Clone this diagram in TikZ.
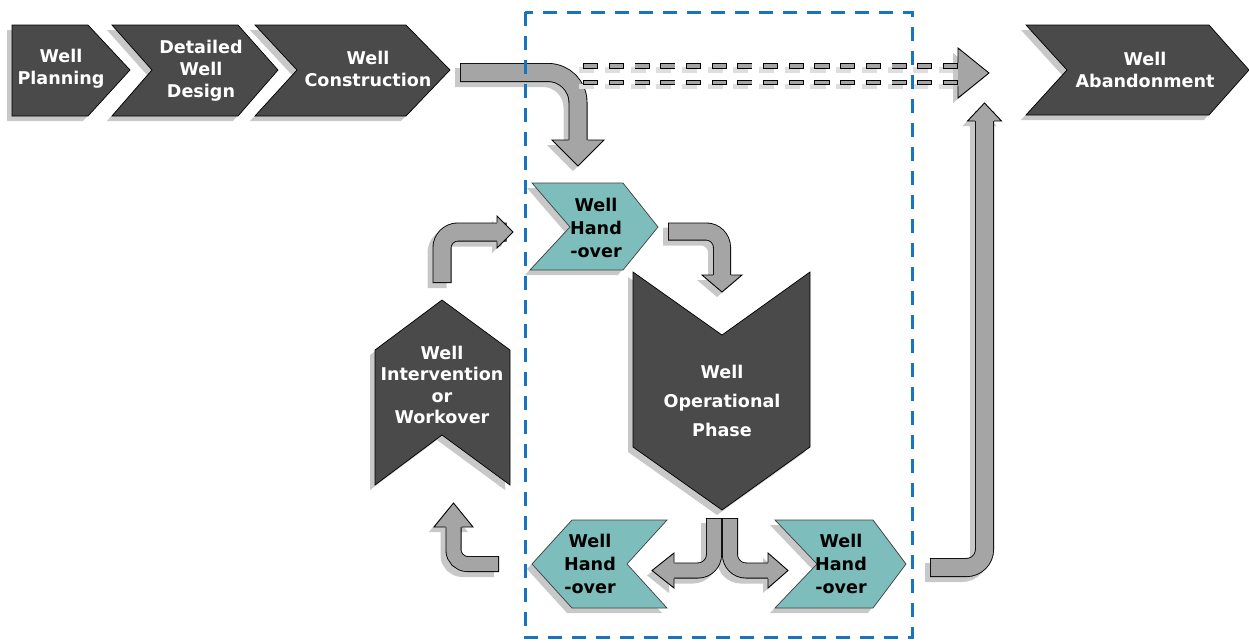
\documentclass[tikz,border=0pt]{standalone}
\usepackage{fontspec}
\setmainfont{DejaVu Sans}
\usepackage{tikz}

\definecolor{chevdark}{RGB}{74,74,74}
\definecolor{handteal}{RGB}{125,190,188}
\definecolor{arrowgray}{RGB}{165,165,165}
\definecolor{shadowgray}{RGB}{200,200,200}
\definecolor{frameblue}{RGB}{22,117,190}

\tikzset{
  chevshadow/.style={fill=shadowgray, shift={(-5,5)}},
  darkchev/.style={fill=chevdark, draw=black, line width=0.4pt},
  tealchev/.style={fill=handteal, draw=black!75, line width=0.4pt},
  whitetext/.style={text=white, align=center, inner sep=0pt, font=\fontsize{10}{12.5}\selectfont\bfseries},
  blacktext/.style={whitetext, text=black},
  shaftshadow/.style={draw=shadowgray, line width={#1*0.02cm}, line cap=rect, shift={(-5,5)}},
  shaftbody/.style={draw=black, line width=0.5pt, double=arrowgray, double distance={#1*0.02cm-1pt}, line cap=rect},
  headshadow/.style={fill=shadowgray, shift={(-5,5)}},
  headbody/.style={fill=arrowgray, draw=black, line width=0.5pt, line join=miter},
  dashrow/.style={draw=black, line width=0.5pt, double=arrowgray, double distance=2.2pt, line cap=rect, dash pattern=on 0.19cm off 0.324cm},
  dashshadow/.style={draw=shadowgray!60, line width=3.2pt, line cap=rect, dash pattern=on 0.19cm off 0.324cm, shift={(-4,4)}},
  bluebox/.style={draw=frameblue, line width=0.06cm, dash pattern=on 0.28cm off 0.2cm}
}

\newcommand{\drawchev}[2]{%
  \fill[chevshadow] #2;
  \filldraw[#1] #2;}
\newcommand{\blockarrow}[4]{%
  \draw[shaftshadow=#1, rounded corners=#2] #3;
  \fill[headshadow] #4;
  \draw[shaftbody=#1, rounded corners=#2] #3;
  \filldraw[headbody] #4;}

\begin{document}
\begin{tikzpicture}[x=0.02cm, y=-0.02cm]
  \useasboundingbox (0,0) rectangle (1249,643);

  % life cycle chevrons
  \drawchev{darkchev}{(12,25) -- (88,25) -- (130,70) -- (88,116) -- (12,116) -- cycle}
  \drawchev{darkchev}{(112,25) -- (238,25) -- (278,70) -- (238,116) -- (112,116) -- (152,70) -- cycle}
  \drawchev{darkchev}{(255,25) -- (406,25) -- (450,70) -- (406,116) -- (255,116) -- (297,70) -- cycle}
  \drawchev{darkchev}{(1026,25) -- (1209,25) -- (1249,70) -- (1209,115) -- (1026,115) -- (1067,70) -- cycle}
  \drawchev{tealchev}{(532,183) -- (623,183) -- (658,227) -- (623,270) -- (530,270) -- (570,227) -- cycle}
  \drawchev{darkchev}{(633,272) -- (722,335) -- (810,272) -- (810,447) -- (722,510) -- (633,447) -- cycle}
  \drawchev{darkchev}{(442,300) -- (510,350) -- (510,485) -- (442,435) -- (375,485) -- (375,350) -- cycle}
  \drawchev{tealchev}{(532,564) -- (572,520) -- (667,520) -- (627,564) -- (667,608) -- (572,608) -- cycle}
  \drawchev{tealchev}{(775,520) -- (873,520) -- (906,564) -- (873,608) -- (775,608) -- (817,564) -- cycle}

  \node[whitetext] (plan) at (61,69) {Well\\Planning};
  \node[whitetext] (design) at (201,71) {Detailed\\Well\\Design};
  \node[whitetext] (constr) at (368,69) {Well\\Construction};
  \node[whitetext] (abandon) at (1145,70) {Well\\Abandonment};
  \node[blacktext, font=\fontsize{10}{13.3}\selectfont\bfseries] (hotop) at (596,228) {Well\\Hand\\-over};
  \node[whitetext, font=\fontsize{10}{16.7}\selectfont\bfseries] (operate) at (722,401) {Well\\Operational\\Phase};
  \node[whitetext, font=\fontsize{10}{12.2}\selectfont\bfseries] (interv) at (442,385) {Well\\Intervention\\or\\Workover};
  \node[blacktext, font=\fontsize{10}{13.3}\selectfont\bfseries] (holeft) at (590,564) {Well\\Hand\\-over};
  \node[blacktext, font=\fontsize{10}{13.3}\selectfont\bfseries] (horight) at (841,564) {Well\\Hand\\-over};

  % block arrows
  \blockarrow{19}{6mm}{(469.5,72.5) -- (578,72.5) -- (578,140)}
    {(568.5,140) -- (552,140) -- (578,166) -- (604,140) -- (587.5,140)}
  \blockarrow{18}{3.2mm}{(677,231.5) -- (722,231.5) -- (722,275)}
    {(713,275) -- (702,275) -- (722,292) -- (742,275) -- (731,275)}
  \blockarrow{19}{3.2mm}{(442,273.5) -- (442,232) -- (497,232)}
    {(497,222.5) -- (497,216) -- (513,232) -- (497,248) -- (497,241.5)}
  \blockarrow{16}{2.8mm}{(491,564) -- (453.5,564) -- (453.5,527)}
    {(445.5,527) -- (434,527) -- (453.5,503) -- (473,527) -- (461.5,527)}
  \blockarrow{16}{3.2mm}{(730,526) -- (730,570.5) -- (768,570.5)}
    {(768,562.5) -- (768,553) -- (788,570.5) -- (768,588) -- (768,578.5)}
  \blockarrow{16}{3.2mm}{(714,526) -- (714,570.5) -- (674,570.5)}
    {(674,562.5) -- (674,553) -- (652,570.5) -- (674,588) -- (674,578.5)}
  \blockarrow{19}{3.6mm}{(939.5,567.5) -- (984.5,567.5) -- (984.5,121)}
    {(975,121) -- (967.5,121) -- (984.5,103) -- (1001.5,121) -- (994,121)}

  % bypass arrow
  \draw[dashshadow] (586,66) -- (958,66);
  \draw[dashshadow] (586,82.5) -- (958,82.5);
  \fill[headshadow] (958,63) -- (958,48) -- (989,73) -- (958,98) -- (958,85.5);
  \draw[dashrow] (586,66) -- (958,66);
  \draw[dashrow] (586,82.5) -- (958,82.5);
  \filldraw[headbody] (958,63) -- (958,48) -- (989,73) -- (958,98) -- (958,85.5);

  \draw[bluebox] (525,12) rectangle (912,637);
\end{tikzpicture}
\end{document}
